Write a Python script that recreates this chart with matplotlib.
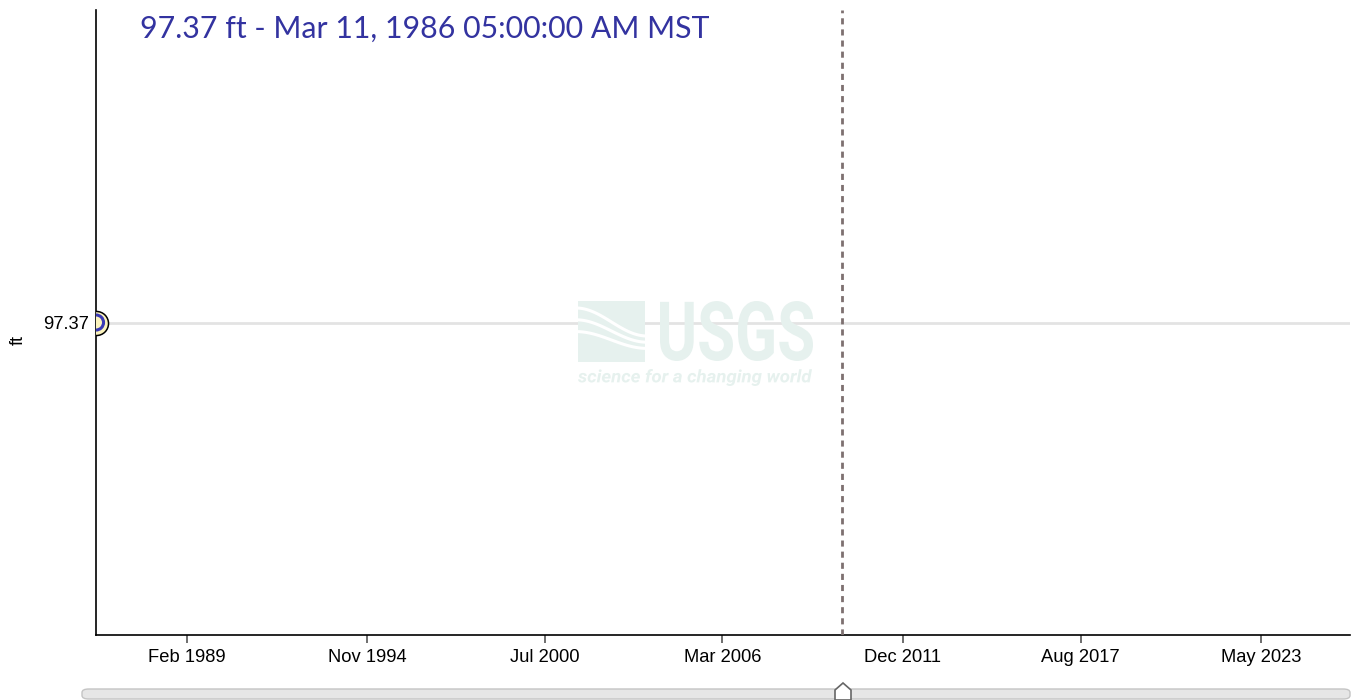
import datetime as dt
import numpy as np
import matplotlib
matplotlib.use("Agg")
import matplotlib.pyplot as plt
from matplotlib.patches import FancyBboxPatch, Polygon, PathPatch, Rectangle
from matplotlib.textpath import TextPath
from matplotlib.font_manager import FontProperties
from matplotlib.transforms import Affine2D, IdentityTransform

# data
obs_dates = [dt.datetime(1986, 3, 11, 5, 0)]
obs_values = [97.37]
marker_date = dt.datetime(2009, 12, 20)
x_start = dt.datetime(1986, 3, 11, 5, 0)
x_end = dt.datetime(2026, 3, 3)
tick_dates = [dt.datetime(1989, 2, 1), dt.datetime(1994, 11, 1), dt.datetime(2000, 7, 1),
              dt.datetime(2006, 3, 1), dt.datetime(2011, 12, 1), dt.datetime(2017, 8, 1),
              dt.datetime(2023, 5, 1)]
tick_labels = ["Feb 1989", "Nov 1994", "Jul 2000", "Mar 2006", "Dec 2011", "Aug 2017", "May 2023"]
title_text = "97.37 ft - Mar 11, 1986 05:00:00 AM MST"

W, H = 1356, 700
WM = "#e6f1ee"  # watermark colour

fig = plt.figure(figsize=(W / 100, H / 100), dpi=100)
ax = fig.add_axes([96 / W, 1 - 635 / H, 1254 / W, 625 / H])

ax.set_xlim(x_start, x_end)
ax.set_ylim(obs_values[0] - 1, obs_values[0] + 1)

ax.axhline(obs_values[0], color="#e3e3e3", lw=2, zorder=1)

# marker: yellow disc, blue ring, clipped by the axes
ax.scatter(obs_dates, obs_values, s=300, color="#fbf3bd", edgecolor="black", lw=1.1, zorder=5)
ax.scatter(obs_dates, obs_values, s=118, color="none", edgecolor="#3a3ab5", lw=2.2, zorder=6)

ax.axvline(marker_date, color="#7d7070", lw=2, ls=(0, (2.2, 1.8)), zorder=3)


def px_text(s, x0, y0, width, height, weight="bold", style="normal"):
    # text scaled to a pixel box (display coords, origin bottom-left)
    tp = TextPath((0, 0), s, size=100, prop=FontProperties(family="Roboto", weight=weight, style=style))
    bb = tp.get_extents()
    tr = Affine2D().translate(-bb.x0, -bb.y0).scale(width / bb.width, height / bb.height).translate(x0, y0)
    fig.patches.append(PathPatch(tr.transform_path(tp), transform=IdentityTransform(),
                                 facecolor=WM, edgecolor="none", zorder=0))


# USGS watermark
px_text("USGS", 660, H - 361, 153, 60)
px_text("science for a changing world", 578, H - 386, 234, 17, style="italic")
fig.patches.append(Rectangle((578, H - 362), 67, 61, transform=IdentityTransform(),
                             facecolor=WM, edgecolor="none", zorder=0))
t = np.linspace(0, 1, 60)
for k, off in enumerate([0, 9, 18]):
    xs = 576 + 71 * t
    ys = H - (322 + off) + 14 * np.cos(np.pi * t) * (1 - 0.2 * k)
    fig.lines.append(plt.Line2D(xs, ys, transform=IdentityTransform(), color="white", lw=2.2, zorder=1))

ax.set_xticks(tick_dates)
ax.set_xticklabels(tick_labels, family="Liberation Sans", fontsize=13.2)
ax.set_yticks(obs_values)
ax.set_yticklabels(["%.2f" % v for v in obs_values], family="Liberation Sans", fontsize=13.2)
ax.tick_params(axis="x", length=6, width=1.2, color="#555555", pad=4)
ax.tick_params(axis="y", length=0, pad=5)
ax.set_ylabel("ft", family="Liberation Sans", fontsize=13)
ax.yaxis.set_label_coords(-(96 - 27) / 1254, (635 - 340) / 625)

for side in ["top", "right"]:
    ax.spines[side].set_visible(False)
for side in ["left", "bottom"]:
    ax.spines[side].set_linewidth(1.2)

fig.text(140 / W, 1 - 29 / H, title_text, ha="left", va="center",
         fontsize=21.8, color="#3333a0", family="Lato")

# slider track and handle
track = FancyBboxPatch((82 / W, 1 - 699 / H), 1268 / W, 10 / H,
                       boxstyle="round,pad=0,rounding_size=0.005", transform=fig.transFigure,
                       facecolor="#e6e6e6", edgecolor="#c4c4c4", lw=1)
fig.patches.append(track)
handle = Polygon([(835, 0), (835, H - 690), (843, H - 683), (851, H - 690), (851, 0)],
                 closed=True, transform=IdentityTransform(), facecolor="white", edgecolor="#666666", lw=1.2)
fig.patches.append(handle)

fig.savefig("out.png", dpi=100)
